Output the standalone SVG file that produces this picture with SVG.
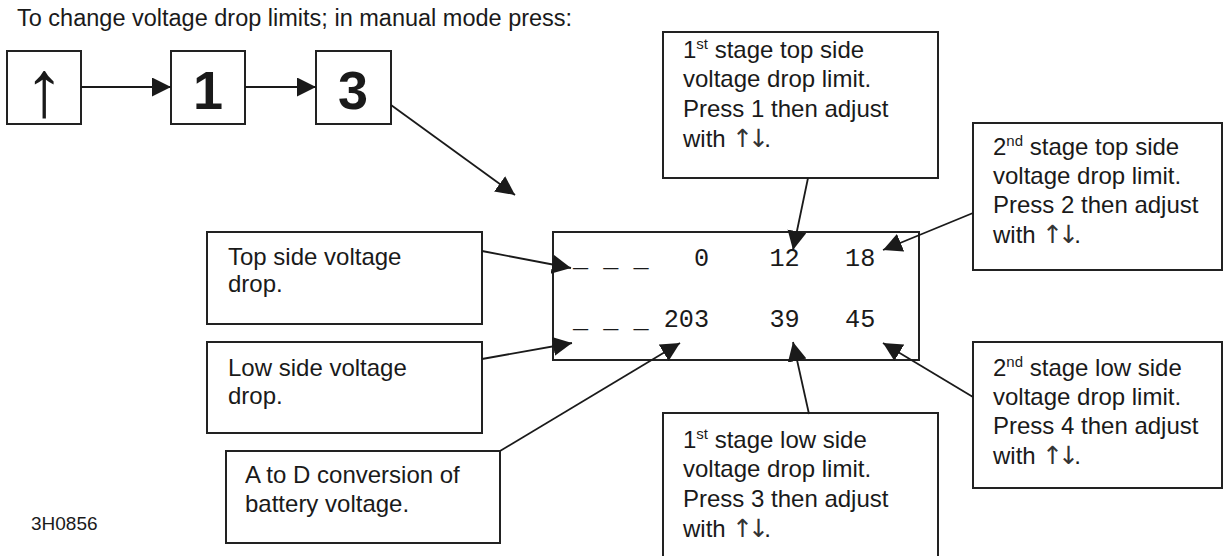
<svg xmlns="http://www.w3.org/2000/svg" width="1225" height="556" viewBox="0 0 1225 556">
<style>
.box{fill:#fff;stroke:#222;stroke-width:2}
.t{font-family:"Liberation Sans",Arial,sans-serif;font-size:24px;fill:#1a1a1a}
.sup{font-size:15px}
.ud{font-family:"DejaVu Sans","Liberation Sans",sans-serif;font-size:25px;fill:#333;letter-spacing:-5px}
.mono{font-family:"Liberation Mono","Courier New",monospace;font-size:25.2px;fill:#1a1a1a}
.c{stroke:#1a1a1a;stroke-width:1.8;fill:none;marker-end:url(#ah)}
.key{font-family:"Liberation Sans",Arial,sans-serif;font-weight:bold;font-size:54px;fill:#1a1a1a;text-anchor:middle}
.arr{font-family:"Liberation Sans",Arial,sans-serif;font-size:80px;fill:#1a1a1a;text-anchor:middle}
</style>
<defs>
<marker id="ah" markerUnits="userSpaceOnUse" markerWidth="20" markerHeight="20" refX="19" refY="9.5" orient="auto">
<path d="M0,0 L19,9.5 L0,19 Z" fill="#1a1a1a"/>
</marker>
</defs>
<text class="t" x="17" y="26" style="font-size:23.5px">To change voltage drop limits; in manual mode press:</text>
<text class="t" x="31" y="530" style="font-size:19px">3H0856</text>

<g id="key-up"><rect class="box" x="7" y="51" width="74" height="73"/><text class="arr" x="44" y="116">↑</text></g>
<g id="key-1"><rect class="box" x="171" y="51" width="74" height="73"/><text class="key" x="208" y="109">1</text></g>
<g id="key-3"><rect class="box" x="316" y="51" width="75" height="73"/><text class="key" x="353" y="109">3</text></g>

<g id="display">
<rect class="box" x="553" y="232" width="366" height="128"/>
<text class="mono" x="573" y="266" xml:space="preserve">_ _ _   0    12   18</text>
<text class="mono" x="573" y="327" xml:space="preserve">_ _ _ 203    39   45</text>
</g>

<g id="top-side">
<rect class="box" x="207" y="232" width="275" height="92"/>
<text class="t" x="228" y="265">Top side voltage</text>
<text class="t" x="228" y="292">drop.</text>
</g>
<g id="low-side">
<rect class="box" x="207" y="342" width="275" height="91"/>
<text class="t" x="228" y="376">Low side voltage</text>
<text class="t" x="228" y="404">drop.</text>
</g>
<g id="a-to-d">
<rect class="box" x="226" y="451" width="274" height="92"/>
<text class="t" x="245" y="483">A to D conversion of</text>
<text class="t" x="245" y="512">battery voltage.</text>
</g>

<g id="stage1-top">
<rect class="box" x="663" y="32" width="275" height="146"/>
<text class="t" x="683" y="58">1<tspan class="sup" dy="-9">st</tspan><tspan dy="9"> stage top side</tspan></text>
<text class="t" x="683" y="87">voltage drop limit.</text>
<text class="t" x="683" y="117">Press 1 then adjust</text>
<text class="t" x="683" y="147">with <tspan class="ud">↑↓</tspan>.</text>
</g>
<g id="stage2-top">
<rect class="box" x="973" y="123" width="249" height="147"/>
<text class="t" x="993" y="155">2<tspan class="sup" dy="-9">nd</tspan><tspan dy="9"> stage top side</tspan></text>
<text class="t" x="993" y="184">voltage drop limit.</text>
<text class="t" x="993" y="213">Press 2 then adjust</text>
<text class="t" x="993" y="243">with <tspan class="ud">↑↓</tspan>.</text>
</g>
<g id="stage1-low">
<rect class="box" x="663" y="413" width="275" height="160"/>
<text class="t" x="683" y="448">1<tspan class="sup" dy="-9">st</tspan><tspan dy="9"> stage low side</tspan></text>
<text class="t" x="683" y="477">voltage drop limit.</text>
<text class="t" x="683" y="507">Press 3 then adjust</text>
<text class="t" x="683" y="537">with <tspan class="ud">↑↓</tspan>.</text>
</g>
<g id="stage2-low">
<rect class="box" x="973" y="342" width="249" height="146"/>
<text class="t" x="993" y="376">2<tspan class="sup" dy="-9">nd</tspan><tspan dy="9"> stage low side</tspan></text>
<text class="t" x="993" y="405">voltage drop limit.</text>
<text class="t" x="993" y="434">Press 4 then adjust</text>
<text class="t" x="993" y="464">with <tspan class="ud">↑↓</tspan>.</text>
</g>

<g id="connectors">
<line class="c" x1="81" y1="87" x2="171" y2="87"/>
<line class="c" x1="245" y1="87" x2="316" y2="87"/>
<line class="c" x1="391" y1="105" x2="515" y2="195"/>
<line class="c" x1="482" y1="251" x2="571" y2="268"/>
<line class="c" x1="482" y1="359" x2="572" y2="343"/>
<line class="c" x1="500" y1="451" x2="680" y2="343"/>
<line class="c" x1="808" y1="178" x2="793" y2="250"/>
<line class="c" x1="973" y1="213" x2="883" y2="250"/>
<line class="c" x1="809" y1="414" x2="793" y2="342"/>
<line class="c" x1="973" y1="397" x2="883" y2="343"/>
</g>
</svg>
